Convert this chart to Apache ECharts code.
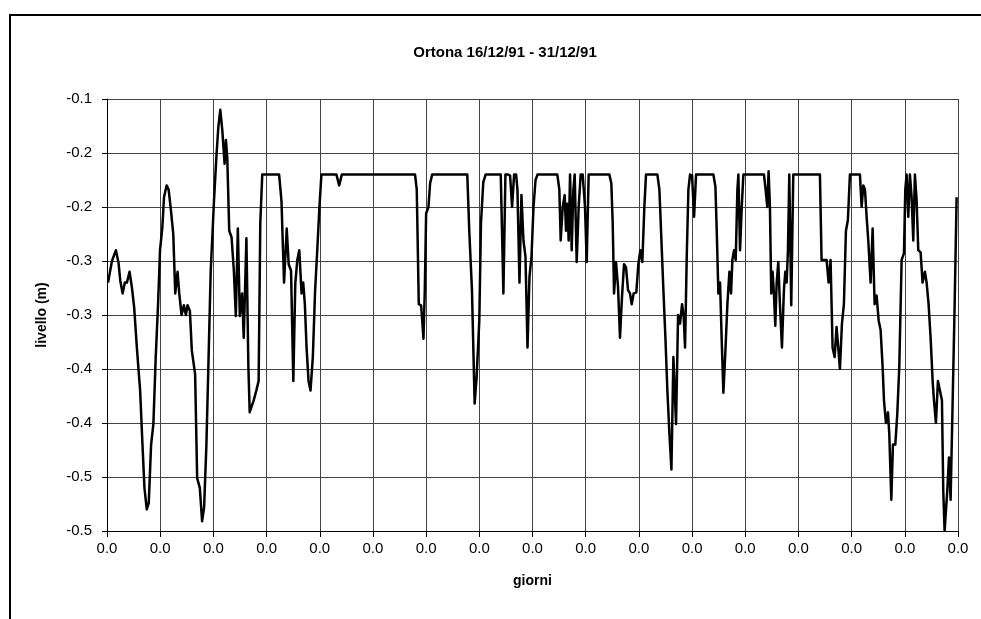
<!DOCTYPE html>
<html>
<head>
<meta charset="utf-8">
<script src="https://cdn.jsdelivr.net/npm/echarts@6/dist/echarts.min.js"></script>
<style>
html,body{margin:0;padding:0;background:#fff;}
#chart{width:981px;height:619px;}
</style>
</head>
<body>
<div id="chart"></div>
<script>
var titleText = 'Ortona 16/12/91 - 31/12/91';
var xAxisName = 'giorni';
var yAxisName = 'livello (m)';
var xTickLabel = '0.0';

// time in days from start
var days = [
0.02,0.093,0.125,0.168,0.218,0.249,0.293,0.336,0.374,0.424,0.467,0.511,0.561,0.623,0.667,0.704,0.748,0.785,0.829,0.872,0.916,0.960,0.997,1.040,1.072,1.121,1.159,1.202,1.246,1.283,1.327,1.358,1.402,1.445,1.483,1.514,1.558,1.595,1.657,1.695,1.745,1.788,1.826,1.869,1.907,1.950,
2.012,2.056,2.093,2.130,2.168,2.211,2.236,2.261,2.298,2.342,2.385,2.422,2.460,2.497,2.540,2.571,2.621,2.658,2.683,2.720,2.758,2.807,2.851,2.882,2.919,3.236,3.280,3.329,3.379,3.416,3.460,3.503,3.540,3.578,3.615,3.658,3.689,3.720,3.752,3.789,3.826,3.870,3.913,3.950,3.994,4.031,
4.314,4.365,4.415,5.792,5.824,5.862,5.906,5.950,5.975,6.000,6.044,6.075,6.113,
6.774,6.811,6.862,6.912,6.950,7.000,7.031,7.075,7.119,7.403,7.453,7.491,7.541,7.579,7.616,7.654,7.692,7.717,7.755,7.792,7.830,7.868,7.906,7.943,7.981,8.019,8.057,8.094,
8.467,8.505,8.530,8.568,8.605,8.630,8.655,8.680,8.706,8.737,8.768,8.793,8.831,8.868,8.906,8.944,8.987,9.019,9.056,9.445,9.482,9.508,9.533,9.570,9.608,9.645,9.683,9.721,9.758,9.796,9.833,9.865,9.902,9.952,9.990,10.028,10.065,10.103,10.134,
10.348,10.386,10.424,10.461,10.499,10.536,10.574,10.612,10.649,10.668,10.699,10.737,10.774,10.812,10.843,10.868,10.900,10.931,10.962,11.000,11.038,11.075,11.401,11.439,11.464,11.495,11.526,11.558,11.589,11.627,11.664,11.702,11.733,11.758,11.789,11.821,11.852,11.871,11.902,11.934,11.965,
12.352,12.383,12.414,12.439,12.464,12.489,12.514,12.539,12.565,12.590,12.621,12.652,12.690,12.727,12.753,12.778,12.803,12.828,12.865,12.903,13.404,13.435,13.529,13.567,13.604,13.642,13.680,13.717,13.749,13.780,13.818,13.855,13.893,13.930,13.968,14.156,
14.188,14.220,14.251,14.282,14.313,14.357,14.395,14.432,14.470,14.508,14.545,14.583,14.608,14.645,14.683,14.708,14.746,14.777,14.821,14.858,14.896,14.940,14.984,15.009,15.034,15.065,15.096,15.128,15.159,15.190,15.222,15.253,15.297,15.334,15.378,15.410,15.447,15.485,15.523,15.548,15.585,15.623,15.660,15.698,15.723,15.748,15.773,15.798,15.830,15.861,15.898,15.936,15.974
];

// water level (m)
var levels = [
-0.270,-0.250,-0.249,-0.240,-0.252,-0.268,-0.280,-0.270,-0.270,-0.260,-0.274,-0.293,-0.330,-0.370,-0.420,-0.460,-0.480,-0.474,-0.420,-0.401,-0.339,-0.290,-0.240,-0.219,-0.191,-0.180,-0.184,-0.203,-0.225,-0.280,-0.260,-0.280,-0.300,-0.291,-0.300,-0.291,-0.296,-0.333,-0.355,-0.451,-0.460,-0.491,-0.478,-0.420,-0.345,-0.259,
-0.194,-0.154,-0.126,-0.110,-0.129,-0.160,-0.138,-0.154,-0.222,-0.228,-0.259,-0.301,-0.220,-0.301,-0.280,-0.321,-0.229,-0.348,-0.390,-0.390,-0.379,-0.370,-0.361,-0.215,-0.170,-0.170,-0.194,-0.270,-0.220,-0.253,-0.259,-0.361,-0.271,-0.249,-0.240,-0.280,-0.270,-0.290,-0.330,-0.361,-0.370,-0.339,-0.277,-0.243,-0.200,-0.170,
-0.170,-0.180,-0.170,-0.170,-0.184,-0.290,-0.291,-0.322,-0.277,-0.206,-0.200,-0.178,-0.170,
-0.170,-0.222,-0.277,-0.382,-0.357,-0.305,-0.215,-0.177,-0.170,-0.170,-0.280,-0.170,-0.170,-0.171,-0.200,-0.170,-0.170,-0.184,-0.270,-0.189,-0.231,-0.246,-0.330,-0.265,-0.246,-0.200,-0.175,-0.170,
-0.170,-0.184,-0.231,-0.200,-0.189,-0.222,-0.197,-0.231,-0.170,-0.240,-0.184,-0.170,-0.251,-0.200,-0.170,-0.170,-0.200,-0.251,-0.170,-0.170,-0.178,-0.215,-0.280,-0.251,-0.274,-0.321,-0.283,-0.253,-0.256,-0.277,-0.280,-0.290,-0.280,-0.279,-0.253,-0.240,-0.251,-0.200,-0.170,
-0.170,-0.184,-0.231,-0.277,-0.321,-0.370,-0.410,-0.443,-0.339,-0.339,-0.401,-0.300,-0.308,-0.290,-0.302,-0.330,-0.246,-0.184,-0.170,-0.171,-0.209,-0.170,-0.170,-0.181,-0.222,-0.280,-0.270,-0.324,-0.372,-0.333,-0.290,-0.260,-0.280,-0.249,-0.240,-0.249,-0.184,-0.170,-0.240,-0.200,-0.170,
-0.170,-0.184,-0.200,-0.167,-0.200,-0.280,-0.260,-0.280,-0.310,-0.271,-0.251,-0.290,-0.330,-0.277,-0.260,-0.270,-0.240,-0.170,-0.291,-0.170,-0.170,-0.249,-0.249,-0.270,-0.249,-0.330,-0.339,-0.311,-0.310,-0.350,-0.308,-0.290,-0.222,-0.212,-0.170,-0.170,
-0.200,-0.180,-0.184,-0.209,-0.231,-0.270,-0.220,-0.290,-0.282,-0.305,-0.314,-0.348,-0.379,-0.400,-0.390,-0.410,-0.471,-0.420,-0.420,-0.392,-0.348,-0.249,-0.243,-0.184,-0.170,-0.209,-0.170,-0.191,-0.231,-0.170,-0.194,-0.240,-0.242,-0.270,-0.260,-0.270,-0.290,-0.321,-0.361,-0.379,-0.400,-0.361,-0.370,-0.379,-0.463,-0.500,-0.500,-0.463,-0.432,-0.471,-0.471,-0.293,-0.191
];

var FONT = 'Arial, "Liberation Sans", sans-serif';
var chart = echarts.init(document.getElementById('chart'), null, {renderer: 'canvas'});

function yFmt(v) {
  var s = v < 0 ? -1 : 1;
  var r = Math.round(Math.abs(v) * 10 + 1e-6) / 10;
  return (s * r).toFixed(1);
}

var seriesData = days.map(function (d, i) { return [d, levels[i]]; });

chart.setOption({
  backgroundColor: '#ffffff',
  animation: false,
  title: {
    text: titleText,
    left: 500,
    top: 40,
    textAlign: 'center',
    textStyle: {fontFamily: FONT, fontSize: 15, fontWeight: 'bold', color: '#000'}
  },
  graphic: [{
    type: 'rect',
    shape: {x: 10, y: 15, width: 1200, height: 900},
    style: {fill: 'none', stroke: '#000', lineWidth: 2},
    silent: true
  }],
  grid: {left: 107, right: 23, top: 99, bottom: 88, containLabel: false},
  xAxis: {
    type: 'value',
    min: 0, max: 16, interval: 1,
    name: xAxisName,
    nameLocation: 'middle',
    nameGap: 43,
    nameTextStyle: {fontFamily: FONT, fontSize: 14, fontWeight: 'bold', color: '#000'},
    axisLine: {show: true, onZero: false, lineStyle: {color: '#000', width: 1}},
    axisTick: {show: true, inside: false, length: 6, lineStyle: {color: '#000'}},
    axisLabel: {formatter: function () { return xTickLabel; }, margin: 10, fontFamily: FONT, fontSize: 15, color: '#000'},
    splitLine: {show: true, lineStyle: {color: '#444', width: 1}}
  },
  yAxis: {
    type: 'value',
    min: -0.5, max: -0.1, interval: 0.05,
    name: yAxisName,
    nameLocation: 'middle',
    nameGap: 58,
    nameRotate: 90,
    nameTextStyle: {fontFamily: FONT, fontSize: 14, fontWeight: 'bold', color: '#000'},
    axisLine: {show: true, onZero: false, lineStyle: {color: '#000', width: 1}},
    axisTick: {show: true, inside: false, length: 5, lineStyle: {color: '#000'}},
    axisLabel: {formatter: yFmt, margin: 15, fontFamily: FONT, fontSize: 15, color: '#000'},
    splitLine: {show: true, lineStyle: {color: '#444', width: 1}}
  },
  series: [{
    type: 'line',
    data: seriesData,
    showSymbol: false,
    symbol: 'none',
    smooth: false,
    lineStyle: {color: '#000', width: 2.5, join: 'round'},
    clip: true
  }]
});
</script>
</body>
</html>
